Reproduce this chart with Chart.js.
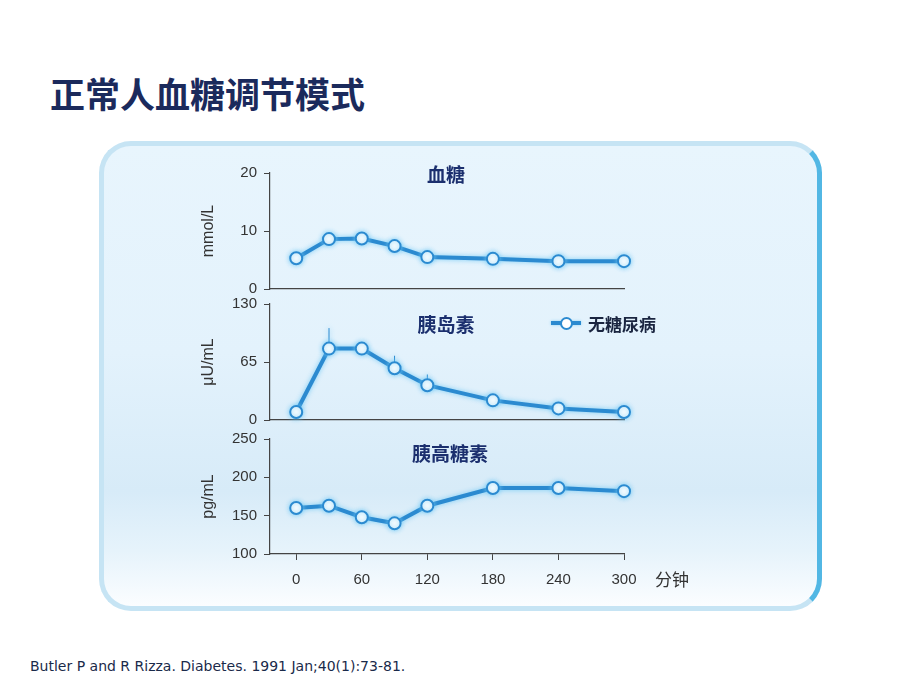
<!DOCTYPE html>
<html>
<head>
<meta charset="utf-8">
<script src="https://cdn.jsdelivr.net/npm/chart.js@4.4.1/dist/chart.umd.min.js"></script>
<style>
  body { margin: 0; width: 920px; height: 690px; background: #fff; position: relative; overflow: hidden; font-family: "Noto Sans CJK SC", sans-serif; }
  .abs { position: absolute; }
  #title { left: 50px; top: 68px; font-size: 35px; font-weight: 700; color: #1b2a5c; line-height: 50px; white-space: nowrap; }
  #box { left: 99px; top: 141px; width: 713px; height: 460px; border-radius: 32px;
    border: 5px solid #c6e4f4; border-right-color: #52b7e4;
    background: linear-gradient(#e8f5fd 0%, #e3f2fc 45%, #d7ebf8 75%, #e6f3fb 88%, #fbfdff 100%); }
  canvas { position: absolute; }
  .ptitle { font-size: 19px; font-weight: 700; color: #1b2f6e; transform: translate(-50%, -50%); white-space: nowrap; }
  #legend { left: 551px; top: 311px; height: 24px; display: flex; align-items: center; font-size: 17px; font-weight: 700; color: #1a2540; }
  #legend .mk { position: relative; width: 30px; height: 24px; margin-right: 7px; }
  #legend .ln { position: absolute; left: 0; top: 10px; width: 30px; height: 4px; background: #2b8ad0; box-shadow: 0 0 3px #8fd3f3; }
  #legend .dot { position: absolute; left: 9px; top: 6px; width: 9px; height: 9px; border: 2px solid #2b8ad0; border-radius: 50%; background: #fff; }
  #unit { left: 655px; top: 566px; font-size: 17px; color: #333; }
  #cite { left: 30px; top: 658px; font-family: "DejaVu Sans", sans-serif; font-size: 14px; color: #1a2a4a; white-space: nowrap; }
</style>
</head>
<body>
<div id="title" class="abs">正常人血糖调节模式</div>
<div id="box" class="abs"></div>

<canvas id="c1" style="left:180px;top:150px" width="520" height="155"></canvas>
<canvas id="c2" style="left:180px;top:288px" width="520" height="148"></canvas>
<canvas id="c3" style="left:180px;top:423px" width="520" height="178"></canvas>

<div class="abs ptitle" style="left:446px;top:173px">血糖</div>
<div class="abs ptitle" style="left:446px;top:323px">胰岛素</div>
<div class="abs ptitle" style="left:450px;top:452px">胰高糖素</div>

<div id="legend" class="abs"><div class="mk"><div class="ln"></div><div class="dot"></div></div>无糖尿病</div>
<div id="unit" class="abs">分钟</div>
<div id="cite" class="abs">Butler P and R Rizza. Diabetes. 1991 Jan;40(1):73-81.</div>

<script>
// minutes after meal
var minutes = [0, 30, 60, 90, 120, 180, 240, 300];
var xTicks = [0, 60, 120, 180, 240, 300];

// 无糖尿病 group
var glucose = [5.3, 8.6, 8.7, 7.4, 5.5, 5.2, 4.8, 4.8];
var insulin = [9, 80, 80, 58, 39, 22, 13, 9];
var insulinErrTop = [null, 103, null, 72, 51, null, null, null];
var glucagon = [160, 163, 148, 140, 163, 186, 186, 182];

var glucoseTicks = [0, 10, 20];
var insulinTicks = [0, 65, 130];
var glucagonTicks = [100, 150, 200, 250];

var lineColor = "#2b8ad0";
var axisColor = "#444";
var tickFont = { family: "'Liberation Sans', sans-serif", size: 15 };

// soft light-blue halo around the lines
var glowPlugin = {
  id: "glow",
  beforeDatasetsDraw(chart) {
    chart.ctx.save();
    chart.ctx.shadowColor = "rgba(110,200,245,0.9)";
    chart.ctx.shadowBlur = 5;
  },
  afterDatasetsDraw(chart) {
    chart.ctx.restore();
  }
};

// thin upward error bars
var errPlugin = {
  id: "errbars",
  beforeDatasetsDraw(chart, args, opts) {
    if (!opts.top) return;
    var ctx = chart.ctx, xs = chart.scales.x, ys = chart.scales.y;
    ctx.save();
    ctx.strokeStyle = lineColor;
    ctx.lineWidth = 1;
    opts.top.forEach(function (v, i) {
      if (v == null) return;
      var x = xs.getPixelForValue(minutes[i]);
      ctx.beginPath();
      ctx.moveTo(x, ys.getPixelForValue(opts.vals[i]));
      ctx.lineTo(x, ys.getPixelForValue(v));
      ctx.stroke();
    });
    ctx.restore();
  }
};

function makePanel(id, values, yTicks, yTitle, padTop, xHeight, showX, err) {
  var ctx = document.getElementById(id).getContext("2d");
  return new Chart(ctx, {
    type: "line",
    data: {
      datasets: [{
        label: "无糖尿病",
        data: values.map(function (v, i) { return { x: minutes[i], y: v }; }),
        borderColor: lineColor,
        borderWidth: 4,
        pointRadius: 6,
        pointBorderWidth: 2,
        pointBackgroundColor: "#fff",
        pointBorderColor: lineColor,
        tension: 0,
        clip: false
      }]
    },
    options: {
      responsive: false,
      animation: false,
      layout: { padding: { left: 15, right: 76, top: padTop, bottom: 0 } },
      plugins: {
        legend: { display: false },
        tooltip: { enabled: false },
        errbars: err ? { top: err, vals: values } : {}
      },
      scales: {
        x: {
          type: "linear",
          min: -24,
          max: 300,
          afterBuildTicks: function (s) { s.ticks = xTicks.map(function (v) { return { value: v }; }); },
          afterFit: function (s) { s.height = xHeight; },
          border: { color: axisColor, width: 1.2 },
          grid: { display: showX, drawOnChartArea: false, tickLength: 6, color: axisColor },
          ticks: { display: showX, color: "#333", font: tickFont, padding: 11, maxRotation: 0 }
        },
        y: {
          min: yTicks[0],
          max: yTicks[yTicks.length - 1],
          afterBuildTicks: function (s) { s.ticks = yTicks.map(function (v) { return { value: v }; }); },
          afterFit: function (s) { s.width = 75; },
          border: { color: axisColor, width: 1.2 },
          grid: { drawOnChartArea: false, tickLength: 6, color: axisColor },
          ticks: { color: "#333", font: tickFont, padding: 7 },
          title: { display: true, text: yTitle, color: "#333", font: { family: "'Liberation Sans', sans-serif", size: 16 } }
        }
      }
    },
    plugins: [glowPlugin, errPlugin]
  });
}

makePanel("c1", glucose, glucoseTicks, "mmol/L", 23, 11, false, null);
makePanel("c2", insulin, insulinTicks, "\u03bcU/mL", 15, 12, false, insulinErrTop);
makePanel("c3", glucagon, glucagonTicks, "pg/mL", 15, 47, true, null);
</script>
</body>
</html>
